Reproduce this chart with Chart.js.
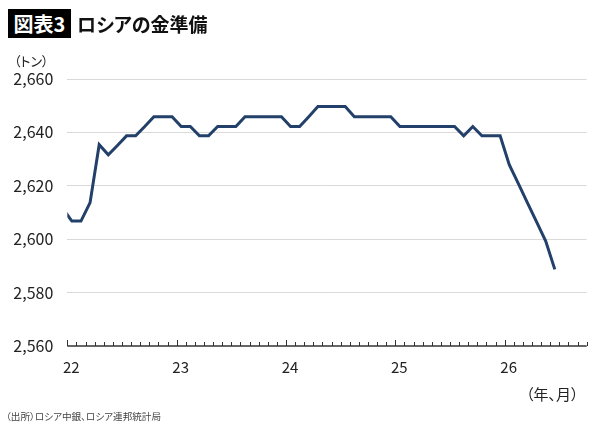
<!DOCTYPE html>
<html lang="ja">
<head>
<meta charset="utf-8">
<title>ロシアの金準備</title>
<script src="https://cdn.jsdelivr.net/npm/chart.js@4.4.1/dist/chart.umd.min.js"></script>
<style>
  html, body { margin: 0; padding: 0; background: #fff; }
  body { font-family: "Noto Sans CJK JP", "Noto Sans", sans-serif; font-feature-settings: "palt"; color: #222; }
  #wrap { position: relative; width: 600px; height: 425px; overflow: hidden; }
  #chartBox { position: absolute; left: 0; top: 0; width: 600px; height: 425px; }
  .txt { position: absolute; white-space: nowrap; line-height: 1; }
  #badge { left: 8px; top: 9px; width: 63px; height: 29px; background: #000; color: #fff;
           font-size: 20px; font-weight: 700; display: flex; align-items: center; justify-content: center; }
  #title { left: 77px; top: 14px; font-size: 19px; font-weight: 700; color: #111; }
  #unit { left: 14px; top: 54px; font-size: 13px; }
  #xunit { left: 526px; top: 386px; font-size: 15px; }
  #source { left: 6px; top: 412px; font-size: 9.6px; color: #444; }
</style>
</head>
<body>
<div id="wrap">
  <div id="chartBox"><canvas id="goldChart"></canvas></div>
  <div class="txt" id="badge">図表3</div>
  <div class="txt" id="title">ロシアの金準備</div>
  <div class="txt" id="unit">（トン）</div>
  <div class="txt" id="xunit">（年、月）</div>
  <div class="txt" id="source">（出所）ロシア中銀、ロシア連邦統計局</div>
</div>
<script>
// Monthly gold reserves in tonnes, starting Dec 2021 (month -1 relative to Jan 2022)
const firstMonth = -1;
const goldTons = [
    2611.5,
    // 2022
    2606.8, 2606.8, 2613.7, 2635.4, 2631.6, 2635.1, 2638.7, 2638.7, 2642.2, 2645.9, 2645.9, 2645.9,
    // 2023
    2642.2, 2642.2, 2638.7, 2638.7, 2642.2, 2642.2, 2642.2, 2645.9, 2645.9, 2645.9, 2645.9, 2645.9,
    // 2024
    2642.2, 2642.2, 2645.9, 2649.7, 2649.7, 2649.7, 2649.7, 2645.9, 2645.9, 2645.9, 2645.9, 2645.9,
    // 2025
    2642.2, 2642.2, 2642.2, 2642.2, 2642.2, 2642.2, 2642.2, 2638.7, 2642.2, 2638.7, 2638.7, 2638.7,
    // 2026
    2627.9, 2620.8, 2613.6, 2606.5, 2599.3, 2588.7
];
const yearLabels = ['22', '23', '24', '25', '26'];
const totalMonths = 57;
const yMin = 2560;
const yMax = 2660;
const yStep = 20;

const lineColor = '#22406a';
const axisColor = '#333';

// Points sit in the middle of each month
const points = goldTons.map((v, i) => ({ x: firstMonth + i + 0.5, y: v }));

// Month tick marks pointing up from the x axis, taller at each new year
const monthTicks = {
    id: 'monthTicks',
    afterDraw(chart) {
        const { ctx, chartArea } = chart;
        const xs = chart.scales.x;
        const base = chartArea.bottom;
        ctx.save();
        ctx.strokeStyle = axisColor;
        ctx.lineWidth = 1;
        ctx.beginPath();
        for (let m = 0; m <= totalMonths; m++) {
            const px = Math.round(xs.getPixelForValue(m)) + 0.5;
            const len = (m % 12 === 0) ? 6 : 4;
            ctx.moveTo(px, base);
            ctx.lineTo(px, base - len);
        }
        ctx.stroke();
        ctx.lineWidth = 1.5;
        ctx.beginPath();
        ctx.moveTo(chartArea.left, base);
        ctx.lineTo(chartArea.right, base);
        ctx.stroke();
        ctx.restore();
    }
};

Chart.defaults.font.family = '"Noto Sans CJK JP", "Noto Sans", sans-serif';
Chart.defaults.color = '#222';

const ctx = document.getElementById('goldChart').getContext('2d');
new Chart(ctx, {
    type: 'line',
    data: {
        datasets: [{
            data: points,
            borderColor: lineColor,
            borderWidth: 3,
            pointRadius: 0,
            tension: 0,
            fill: false
        }]
    },
    options: {
        responsive: true,
        maintainAspectRatio: false,
        animation: false,
        layout: { padding: { top: 79, right: 13.3, bottom: 0, left: 0 } },
        plugins: {
            legend: { display: false },
            tooltip: { enabled: false }
        },
        scales: {
            x: {
                type: 'linear',
                min: 0,
                max: totalMonths,
                afterFit: s => { s.height = 79; },
                grid: { display: false, drawTicks: false },
                border: { display: false },
                ticks: {
                    stepSize: 12,
                    autoSkip: false,
                    maxRotation: 0,
                    padding: 12,
                    labelOffset: 4,
                    font: { size: 15 },
                    callback: v => (v % 12 === 0 ? (yearLabels[v / 12] || '') : '')
                }
            },
            y: {
                min: yMin,
                max: yMax,
                afterFit: s => { s.width = 67.3; },
                grid: {
                    color: c => (c.tick && c.tick.value === yMin ? 'rgba(0,0,0,0)' : '#d9d9d9'),
                    lineWidth: 1,
                    drawTicks: false
                },
                border: { display: false },
                ticks: {
                    stepSize: yStep,
                    padding: 14,
                    font: { size: 16 },
                    callback: v => v.toLocaleString('en-US')
                }
            }
        }
    },
    plugins: [monthTicks]
});
</script>
</body>
</html>
